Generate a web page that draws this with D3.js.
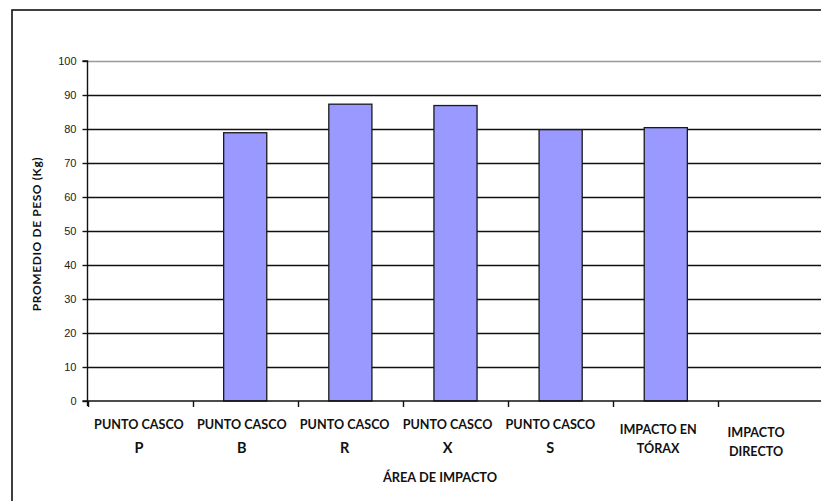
<!DOCTYPE html>
<html>
<head>
<meta charset="utf-8">
<script src="https://cdn.jsdelivr.net/npm/d3@7"></script>
<style>
  html, body { margin: 0; padding: 0; background: #fff; }
  svg { display: block; }
</style>
</head>
<body>
<svg id="chart" width="821" height="501"></svg>
<script>
// Average weight per impact area
const categories = ["P", "B", "R", "X", "S", "TORAX", "DIRECTO"];
const labelLines = [
  ["PUNTO CASCO", "P"],
  ["PUNTO CASCO", "B"],
  ["PUNTO CASCO", "R"],
  ["PUNTO CASCO", "X"],
  ["PUNTO CASCO", "S"],
  ["IMPACTO EN", "TÓRAX"],
  ["IMPACTO", "DIRECTO"]
];
const values = [null, 78.9, 87.3, 86.9, 79.8, 80.4, null];
const yTicks = [0, 10, 20, 30, 40, 50, 60, 70, 80, 90, 100];
const yTitle = "PROMEDIO DE PESO (Kg)";
const xTitle = "ÁREA DE IMPACTO";

const svg = d3.select("#chart");
const W = 821, H = 501;
const plot = { left: 87.5, right: 823.5, top: 61, bottom: 401 };

// outer frame
svg.append("rect")
  .attr("x", 12).attr("y", 10)
  .attr("width", W + 20).attr("height", H + 20)
  .attr("fill", "none").attr("stroke", "#111").attr("stroke-width", 1.6);

const x = d3.scaleBand().domain(categories).range([plot.left, plot.right]).padding(0);
const xLab = d3.scaleBand().domain(categories).range([87.5, 807.5]).padding(0);
const y = d3.scaleLinear().domain([0, 100]).range([plot.bottom, plot.top]);

// gridlines
svg.append("g").selectAll("line")
  .data(yTicks.filter(t => t > 0))
  .join("line")
  .attr("x1", plot.left).attr("x2", W)
  .attr("y1", d => Math.round(y(d)) + 0.5).attr("y2", d => Math.round(y(d)) + 0.5)
  .attr("stroke", d => d === 100 ? "#999" : "#111")
  .attr("stroke-width", 1.4);

// bars
const barW = x.bandwidth() * 0.41;
svg.append("g").selectAll("rect")
  .data(categories.map((c, i) => ({ c, v: values[i] })).filter(d => d.v != null))
  .join("rect")
  .attr("x", d => x(d.c) + x.bandwidth() / 2 - barW / 2)
  .attr("y", d => y(d.v))
  .attr("width", barW)
  .attr("height", d => y(0) - y(d.v))
  .attr("fill", "#9999FF")
  .attr("stroke", "#1a1a1a")
  .attr("stroke-width", 1.3);

// y axis
const yAxis = d3.axisLeft(y).tickValues(yTicks).tickSize(5).tickPadding(6).tickFormat(d3.format("d"));
const gy = svg.append("g").attr("transform", `translate(${plot.left},0)`).call(yAxis);
gy.select(".domain").attr("stroke", "#111").attr("stroke-width", 1.4)
  .attr("d", `M-5,${plot.top}H0V${plot.bottom + 5}`);
gy.selectAll(".tick line").attr("stroke", "#111").attr("stroke-width", 1.4);
gy.selectAll(".tick text")
  .attr("font-family", "Liberation Sans, Arial, sans-serif")
  .attr("font-size", 11).attr("fill", "#222");

// x axis
const xAxis = d3.axisBottom(x).tickValues([]).tickSizeOuter(0);
const gx = svg.append("g").attr("transform", `translate(0,${plot.bottom})`).call(xAxis);
gx.select(".domain").attr("stroke", "#111").attr("stroke-width", 1.4)
  .attr("d", `M${plot.left - 5},0H${W}`);
gx.selectAll("line.sep")
  .data(categories)
  .join("line")
  .attr("class", "sep")
  .attr("x1", d => Math.round(x(d)) + 0.5).attr("x2", d => Math.round(x(d)) + 0.5)
  .attr("y1", 0).attr("y2", 6)
  .attr("stroke", "#111").attr("stroke-width", 1.4);

// category labels
const labelFont = "Lato, 'Open Sans', sans-serif";
const lg = svg.append("g")
  .attr("font-family", labelFont).attr("font-weight", "bold")
  .attr("fill", "#111").attr("text-anchor", "middle");
labelLines.forEach((lines, i) => {
  const c = categories[i];
  const cx = xLab(c) + xLab.bandwidth() / 2;
  const twoWord = i >= 5;
  lines.forEach((t, j) => {
    lg.append("text")
      .attr("x", cx + (i === 5 ? 5 : 0))
      .attr("y", (twoWord ? (i === 5 ? 434 : 437) : 429) + j * (twoWord ? 19 : 24))
      .attr("font-size", j === 1 && !twoWord ? 14.5 : 12.6)
      .text(t);
  });
});

// axis titles
svg.append("text")
  .attr("transform", `translate(41,234) rotate(-90)`)
  .attr("text-anchor", "middle")
  .attr("font-family", labelFont).attr("font-weight", "bold")
  .attr("font-size", 12).attr("letter-spacing", 0.6).attr("fill", "#111")
  .text(yTitle);

svg.append("text")
  .attr("x", 440).attr("y", 482)
  .attr("text-anchor", "middle")
  .attr("font-family", labelFont).attr("font-weight", "bold")
  .attr("font-size", 12.8).attr("fill", "#111")
  .text(xTitle);
</script>
</body>
</html>
